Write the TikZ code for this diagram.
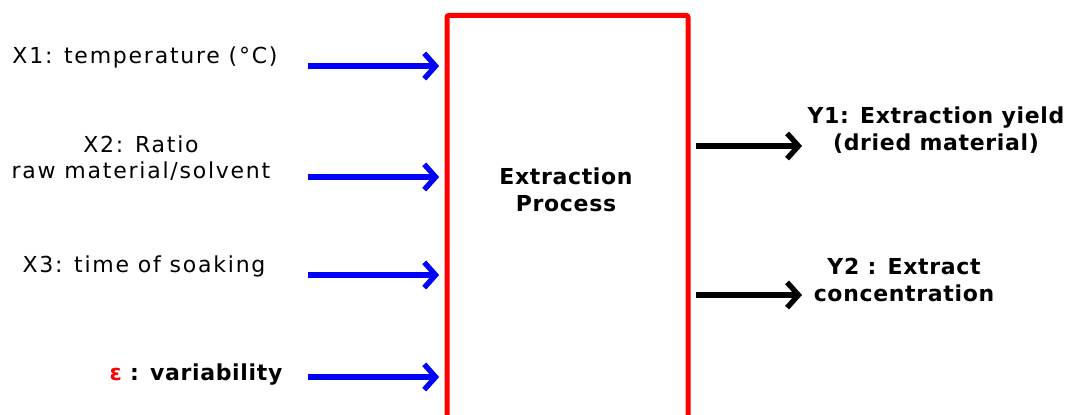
\documentclass[tikz,border=0pt]{standalone}
\usepackage{fontspec}
\setmainfont{DejaVu Sans}
\newfontfamily\spaced[LetterSpace=8]{DejaVu Sans}
\newfontfamily\spacedbf[LetterSpace=3]{DejaVu Sans Bold}
\usepackage{tikz}
\usetikzlibrary{arrows.meta}
\definecolor{inblue}{RGB}{0,0,255}
\definecolor{boxred}{RGB}{255,0,0}

\begin{document}
\begin{tikzpicture}[x=0.75pt,y=-0.75pt]
\tikzstyle{every node}+=[inner sep=0pt, align=center, font=\fontsize{16.5}{20}\selectfont\spaced]
\tikzstyle{boldlabel}=[font=\fontsize{16.5}{20}\selectfont\spacedbf]
\tikzstyle{inarrow}=[draw=inblue, line width=4pt, -{Straight Barb[length=8.5pt,width=19pt]}, shorten >=4pt]
\tikzstyle{outarrow}=[draw=black, line width=4pt, -{Straight Barb[length=8.5pt,width=19pt]}, shorten <=4pt]
\useasboundingbox (0,0) rectangle (1067,414);
\clip (0,0) rectangle (1067,414);
\node [draw=boxred, line width=3.75pt, rounded corners=1.5pt, minimum width=180.75pt, minimum height=322pt] (box) at (567.5,230) {};
\node [boldlabel] (proc) at (566,190) {Extraction\\Process};
\node (x1) at (145,57) {X1: temperature (°C)};
\node (x2) at (141,158) {X2: Ratio\\raw material/solvent};
\node (x3) at (144,266) {X3: time of soaking};
\node [boldlabel] (eps) at (196,375) {{\color{boxred}ε} : variability};
\node [boldlabel] (y1) at (936,130) {Y1: Extraction yield\\(dried material)};
\node [boldlabel] (y2) at (904,280) {Y2 : Extract\\concentration};
\coordinate (a1) at (308,66);
\coordinate (a2) at (308,177);
\coordinate (a3) at (308,275);
\coordinate (a4) at (308,377);
\coordinate (b1) at (802,146);
\coordinate (b2) at (802,295);
\draw [inarrow] (a1) -- (a1 -| box.west);
\draw [inarrow] (a2) -- (a2 -| box.west);
\draw [inarrow] (a3) -- (a3 -| box.west);
\draw [inarrow] (a4) -- (a4 -| box.west);
\draw [outarrow] (b1 -| box.east) -- (b1);
\draw [outarrow] (b2 -| box.east) -- (b2);
\end{tikzpicture}
\end{document}
